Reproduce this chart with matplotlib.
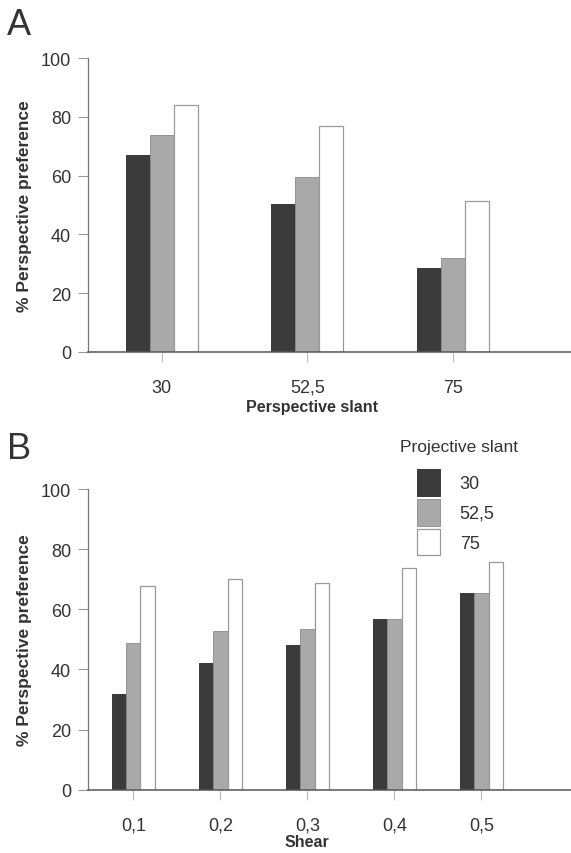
import matplotlib
matplotlib.use("Agg")
import matplotlib.pyplot as plt
import numpy as np

plt.rcParams["font.family"] = ["Liberation Sans", "DejaVu Sans"]

# Panel A data
slant_labels = ["30", "52,5", "75"]
a_30 = [67, 50.5, 28.5]
a_52 = [74, 59.5, 32]
a_75 = [84, 77, 51.5]

# Panel B data
shear_labels = ["0,1", "0,2", "0,3", "0,4", "0,5"]
b_30 = [31.7, 42.2, 48.0, 56.9, 65.4]
b_52 = [48.7, 52.9, 53.6, 56.7, 65.4]
b_75 = [67.7, 70.2, 68.7, 73.8, 75.7]

legend_labels = ["30", "52,5", "75"]

DARK = "#3b3b3b"
GRAY = "#a9a9a9"
WHITE = "#ffffff"
TXT = "#333333"

fig = plt.figure(figsize=(5.71, 8.54), dpi=100)
axA = fig.add_axes([0.1547, 0.587, 0.8453, 0.3436])
axB = fig.add_axes([0.1547, 0.0741, 0.8453, 0.3521])


def style(ax):
    ax.set_ylim(0, 100)
    ax.set_yticks([0, 20, 40, 60, 80, 100])
    for s in ["top", "right"]:
        ax.spines[s].set_visible(False)
    ax.spines["left"].set_color("#777777")
    ax.spines["bottom"].set_color("#555555")
    ax.spines["left"].set_linewidth(0.9)
    ax.spines["bottom"].set_linewidth(1.1)
    ax.tick_params(axis="y", length=7, width=0.8, color="#999999", pad=5.5,
                   labelsize=13, labelcolor=TXT)
    ax.tick_params(axis="x", length=7, width=0.8, color="#bbbbbb", pad=12.5,
                   labelsize=13, labelcolor=TXT)


def bars(ax, s1, s2, s3, w):
    x = np.arange(len(s1))
    ax.bar(x - w, s1, w, color=DARK, edgecolor="#2a2a2a", linewidth=0.6, label=legend_labels[0])
    ax.bar(x, s2, w, color=GRAY, edgecolor="#8a8a8a", linewidth=0.6, label=legend_labels[1])
    ax.bar(x + w, s3, w, color=WHITE, edgecolor="#999999", linewidth=0.9, label=legend_labels[2])
    ax.set_xticks(x)


# A
bars(axA, a_30, a_52, a_75, 0.165)
axA.set_xticklabels(slant_labels)
axA.set_xlim(-0.505, 2.81)
style(axA)
axA.set_ylabel("% Perspective preference", fontsize=12.5, fontweight="bold", color=TXT)
axA.yaxis.set_label_coords(-0.117, 0.5)
axA.set_xlabel("Perspective slant", fontsize=11.5, fontweight="bold", color=TXT)
axA.xaxis.set_label_coords(0.463, -0.161)

# B
bars(axB, b_30, b_52, b_75, 0.165)
axB.set_xticklabels(shear_labels)
axB.set_xlim(-0.517, 5.03)
style(axB)
axB.set_ylabel("% Perspective preference", fontsize=12.5, fontweight="bold", color=TXT)
axB.yaxis.set_label_coords(-0.117, 0.5)
axB.set_xlabel("Shear", fontsize=11.5, fontweight="bold", color=TXT)
axB.xaxis.set_label_coords(0.452, -0.147)

leg = axB.legend(loc="upper left",
                 bbox_to_anchor=(417 / 571, 1 - 470 / 854),
                 bbox_transform=fig.transFigure, frameon=False,
                 fontsize=13, handlelength=1.27,
                 handleheight=1.9, labelspacing=0.17, handletextpad=1.1,
                 borderpad=0, borderaxespad=0)
for t in leg.get_texts():
    t.set_color(TXT)
fig.text(459 / 571, 1 - 448 / 854, "Projective slant", fontsize=12.5, color=TXT,
         ha="center", va="center")

fig.text(7 / 571, 1 - 8 / 854, "A", fontsize=26, color="#333333", va="top", ha="left",
         fontweight="light")
fig.text(7 / 571, 1 - 432 / 854, "B", fontsize=26, color="#333333", va="top", ha="left",
         fontweight="light")

fig.savefig("out.png", dpi=100)
